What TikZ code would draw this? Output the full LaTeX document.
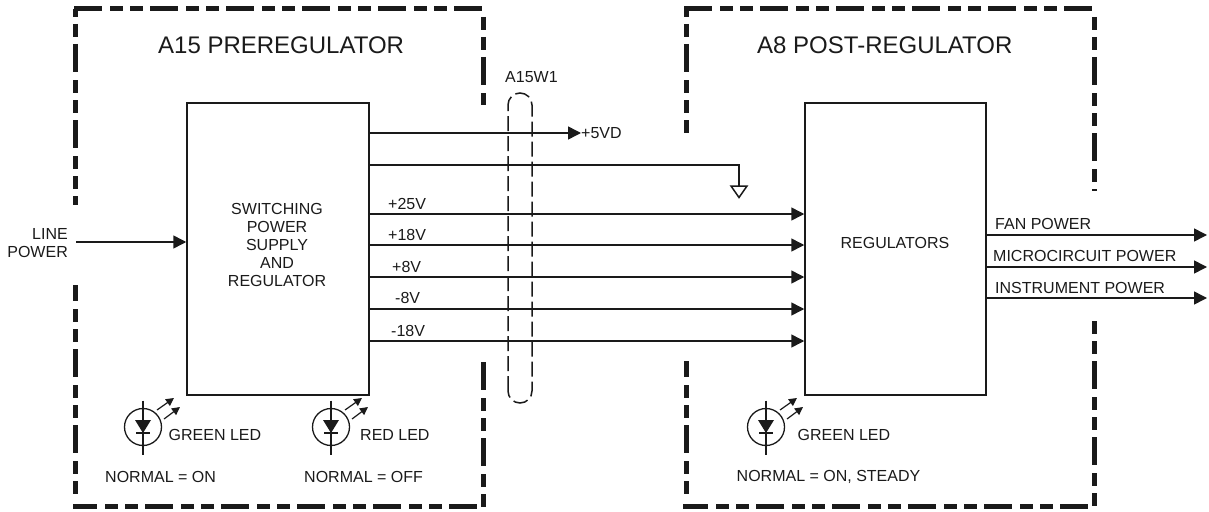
\documentclass[tikz,border=0pt]{standalone}
\usepackage{fontspec}
\setmainfont{Liberation Sans}
\usepackage{xcolor}
\usetikzlibrary{positioning,arrows.meta,calc}
\definecolor{ink}{HTML}{1A1A1A}
% LED symbol: name, centre
\newcommand{\ledsym}[2]{
  \node[ledring] (#1) at (#2) {};
  \draw[ledwire] ($(#1.center)+(0,-26.5)$) -- ($(#1.center)+(0,27.5)$);
  \fill[ink] ($(#1.center)+(-8,-7)$) -- ($(#1.center)+(8,-7)$) -- ($(#1.center)+(0,6)$) -- cycle;
  \draw[ledwire] ($(#1.center)+(-7,6)$) -- ($(#1.center)+(7,6)$);
  \draw[ledray] ($(#1.center)+(14,-17)$) -- ($(#1.center)+(31,-29)$);
  \draw[ledray] ($(#1.center)+(21,-8)$) -- ($(#1.center)+(37,-20)$);
}

\begin{document}
\begin{tikzpicture}[x=1pt,y=-1pt,
    block/.style={draw=ink,line width=1.5pt,inner sep=0pt},
    arr/.style={-{Triangle[length=13pt,width=13pt]},ink,line width=1.5pt},
    wire/.style={ink,line width=1.5pt},
    frame/.style={ink,line width=5pt,dash pattern=on 28pt off 8pt on 13pt off 7pt on 13pt off 7pt},
    cable/.style={ink,line width=1.5pt,dash pattern=on 15pt off 5pt},
    heading/.style={font=\fontsize{24}{28}\selectfont,text=ink,inner sep=0pt},
    lbl/.style={font=\fontsize{16}{18}\selectfont,text=ink,inner sep=0pt,anchor=west},
    ledring/.style={draw=ink,circle,line width=1.3pt,minimum size=37pt,inner sep=0pt},
    ledwire/.style={ink,line width=1.5pt},
    ledray/.style={-{Triangle[length=8pt,width=8pt]},ink,line width=1.2pt}
  ]
  \useasboundingbox (0,0) rectangle (1209,511);

  % A15 outline
  \draw[frame,dash phase=41pt] (75,9) -- (75,205);
  \draw[frame] (74,8.5) -- (483,8.5);
  \draw[frame,dash phase=36pt] (483,17) -- (483,105);
  \draw[frame,dash phase=12pt] (75,285) -- (75,495);
  \draw[frame,dash phase=4pt] (73,506.5) -- (477,506.5);
  \draw[frame] (483,362) -- (483,507);

  % A8 outline
  \draw[frame,dash phase=41pt] (686,9) -- (686,133);
  \draw[frame] (684,8.5) -- (1094,8.5);
  \draw[frame,dash phase=36pt] (1094,17) -- (1094,191);
  \draw[frame,dash phase=12pt] (686,361) -- (686,495);
  \draw[frame,dash phase=3pt] (683,506.5) -- (1088,506.5);
  \draw[frame,dash phase=36pt] (1094,321) -- (1094,507);

  \node[heading,anchor=west] (pretitle) at (158,45) {A15 PREREGULATOR};
  \node[heading,anchor=west] (posttitle) at (757,45) {A8 POST-REGULATOR};

  % Blocks
  \node[block,minimum width=182pt,minimum height=292pt] (supply) at (278,249) {};
  \node[block,minimum width=181pt,minimum height=292pt] (reg) at (895.5,249) {};
  \node[lbl,anchor=center,align=center] (supplytext) at (277,245) {SWITCHING\\POWER\\SUPPLY\\AND\\REGULATOR};
  \node[lbl,anchor=center] (regtext) at (895,243) {REGULATORS};

  % Line input
  \coordinate (linein) at (76,242);
  \node[lbl,anchor=east,align=right] (linepower) at (68,243.5) {LINE\\POWER};
  \draw[arr] (linein) -- (supply.west |- linein);

  % Supply outputs
  \node[lbl] (vd) at (581,133) {+5VD};
  \draw[arr] (supply.east |- vd) -- (vd.west);
  \coordinate (gndtop) at (739,165);
  \coordinate (gnd) at (739,186);
  \draw[wire] (supply.east |- gndtop) -- (gndtop) -- (gnd);
  \draw[wire,line join=miter] ($(gnd)+(-8,0)$) -- ($(gnd)+(8,0)$) -- ($(gnd)+(0,11.5)$) -- cycle;
  \draw[arr] (supply.east |- 0,214) -- (reg.west |- 0,214);
  \draw[arr] (supply.east |- 0,245) -- (reg.west |- 0,245);
  \draw[arr] (supply.east |- 0,277) -- (reg.west |- 0,277);
  \draw[arr] (supply.east |- 0,309) -- (reg.west |- 0,309);
  \draw[arr] (supply.east |- 0,341) -- (reg.west |- 0,341);
  \node[lbl] (v25) at (388,204) {+25V};
  \node[lbl] (v18) at (388,235) {+18V};
  \node[lbl] (v8) at (392,267) {+8V};
  \node[lbl] (vm8) at (395,298) {-8V};
  \node[lbl] (vm18) at (391,331) {-18V};

  % Cable
  \node[lbl] (w1) at (505,77) {A15W1};
  \draw[cable] (508,391) -- (508,105) arc[start angle=180,end angle=360,radius=12] -- (532,391) arc[start angle=0,end angle=180,radius=12];

  % Regulator outputs
  \coordinate (fanend) at (1207,235);
  \coordinate (microend) at (1207,267);
  \coordinate (instend) at (1207,298);
  \draw[arr] (reg.east |- fanend) -- (fanend);
  \draw[arr] (reg.east |- microend) -- (microend);
  \draw[arr] (reg.east |- instend) -- (instend);
  \node[lbl] (fan) at (995,224) {FAN POWER};
  \node[lbl] (micro) at (993,256) {MICROCIRCUIT POWER};
  \node[lbl] (inst) at (995,288) {INSTRUMENT POWER};

  % LEDs
  \ledsym{ledone}{143,427}
  \ledsym{ledtwo}{331,427}
  \ledsym{ledthree}{766,427}
  \node[lbl] (greenone) at (168.5,435) {GREEN LED};
  \node[lbl] (red) at (360,435) {RED LED};
  \node[lbl] (greenthree) at (797.5,435) {GREEN LED};
  \node[lbl] (normone) at (105,477) {NORMAL = ON};
  \node[lbl] (normtwo) at (304,477) {NORMAL = OFF};
  \node[lbl] (normthree) at (736.5,477) {NORMAL = ON, STEADY};
\end{tikzpicture}
\end{document}
